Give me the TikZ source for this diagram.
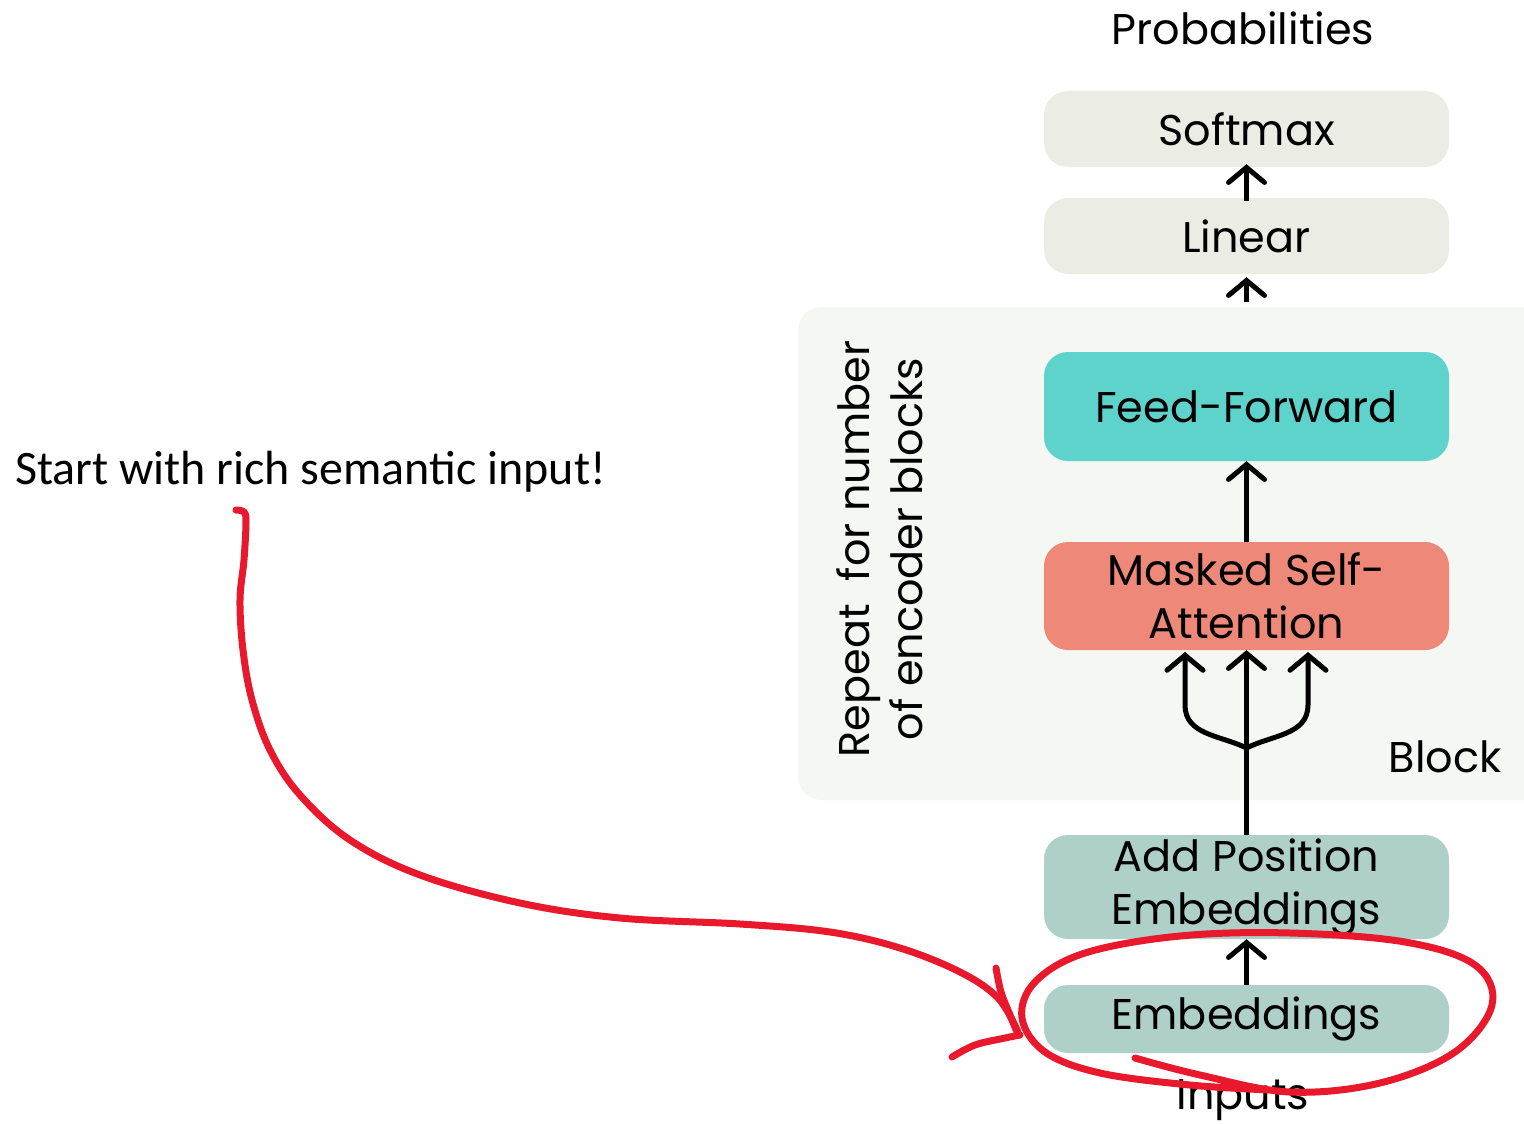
\documentclass[tikz,border=0pt]{standalone}
\usepackage{fontspec}
\setmainfont{Poppins}
\newfontfamily\calib{Carlito}
\usetikzlibrary{arrows.meta}
\definecolor{boxgray}{HTML}{EBEDE5}
\definecolor{blockbg}{HTML}{F5F7F3}
\definecolor{ffteal}{HTML}{5DD3CC}
\definecolor{attred}{HTML}{EE8878}
\definecolor{embgreen}{HTML}{AFCFC9}
\definecolor{penred}{HTML}{E8192C}
\tikzset{
  layerbox/.style={rounded corners=24pt, minimum width=405pt, inner sep=0pt, align=center,
    font=\fontsize{43}{53}\selectfont},
  uparrow/.style={line width=5pt, -{Straight Barb[length=15pt,width=36pt,line cap=round]}},
  redpen/.style={penred, line width=7pt, line cap=round, line join=round},
  lbl/.style={font=\fontsize{43}{53}\selectfont, inner sep=0pt},
}
\begin{document}
\begin{tikzpicture}[x=1pt,y=-1pt]
\useasboundingbox (0,0) rectangle (1524,1124);
\clip (0,0) rectangle (1524,1124);
\fill[white] (0,0) rectangle (1524,1124);
% block background
\fill[blockbg, rounded corners=24pt] (798,307) rectangle (1560,800);
% nodes
\node[lbl] (prob) at (1243,28) {Probabilities};
\node[layerbox, fill=boxgray, minimum height=76pt] (soft) at (1246.5,129) {Softmax};
\node[layerbox, fill=boxgray, minimum height=76pt] (lin) at (1246.5,236) {Linear};
\node[layerbox, fill=ffteal, minimum height=109pt] (ff) at (1246.5,406.5) {Feed-Forward};
\node[layerbox, fill=attred, minimum height=108pt] (att) at (1246.5,596) {Masked Self-\\Attention};
\node[layerbox, fill=embgreen, minimum height=104pt] (pos) at (1246.5,887) {Add Position\\Embeddings};
\node[layerbox, fill=embgreen, minimum height=68pt] (emb) at (1246.5,1019) {Embeddings};
\node[lbl] (inp) at (1243,1100) {Inputs};
\node[lbl] (blk) at (1445,757) {Block};
\node[lbl, rotate=90, align=center] (rep) at (880,549) {Repeat\ \ for number\\of encoder blocks};
\node[font=\calib\fontsize{48}{56}\selectfont, inner sep=0pt, anchor=west] (start) at (15,472) {Start with rich semantic input!};
% coordinates
\coordinate (top) at (1246.5,302);
\coordinate (fork) at (1246.5,748);
\coordinate (la) at (1185,652);
\coordinate (ra) at (1308,652);
% connectors
\draw[uparrow] ([yshift=-3pt]lin.north) -- ([yshift=3pt]soft.south);
\draw[uparrow] (top) -- ([yshift=-3pt]lin.south);
\draw[uparrow] (att.north) -- (ff.south);
\draw[uparrow] (pos.north) -- (att.south);
\draw[uparrow] (emb.north) -- (pos.south);
\draw[uparrow] (fork) .. controls (1220,735) and (1185,735) .. (1185,705) -- (la);
\draw[uparrow] (fork) .. controls (1272,735) and (1308,735) .. (1308,705) -- (ra);
% red annotation
\draw[redpen] plot[smooth, tension=0.6] coordinates {(236,510) (244,512) (246,522) (244,560) (240,600) (243,650) (252,700) (270,750) (300,795) (350,840) (420,875) (520,903) (620,918) (740,924) (830,932) (900,948) (960,972) (998,998) (1018,1032)};
\draw[redpen] plot[smooth, tension=0.6] coordinates {(996,968) (1001,992) (1010,1015) (1017,1032)};
\draw[redpen] plot[smooth, tension=0.6] coordinates {(952,1057) (975,1045) (1005,1038) (1020,1035)};
\draw[redpen] plot[smooth, tension=0.6] coordinates {(1135,1058) (1200,1075) (1290,1092) (1380,1083) (1455,1052) (1492,1005) (1475,965) (1405,942) (1290,933) (1180,936) (1085,953) (1035,982) (1022,1018) (1045,1052) (1100,1073) (1190,1085) (1270,1090)};
\end{tikzpicture}
\end{document}
